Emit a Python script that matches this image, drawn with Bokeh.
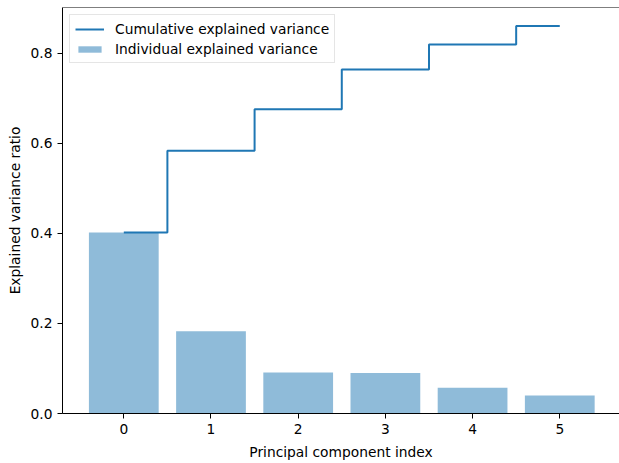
import numpy as np
from bokeh.plotting import figure
from bokeh.models import (Range1d, FixedTicker, PrintfTickFormatter, Legend,
                          LegendItem, Span, ColumnDataSource)
from bokeh.embed import file_html
from bokeh.resources import INLINE

components = [0, 1, 2, 3, 4, 5]
individual = [0.402, 0.183, 0.091, 0.090, 0.057, 0.040]
cumulative = [0.402, 0.584, 0.676, 0.764, 0.820, 0.861]
x_ticks = [0, 1, 2, 3, 4, 5]
y_ticks = [0.0, 0.2, 0.4, 0.6, 0.8]

FONT = "DejaVu Sans"
FS = "13.8px"
BLUE = "#1f77b4"

p = figure(width=619, height=463, output_backend="svg", toolbar_location=None,
           x_range=Range1d(-0.703, 5.685), y_range=Range1d(0, 0.902),
           min_border_left=62, min_border_right=0, min_border_top=7,
           min_border_bottom=50)
p.outline_line_color = None
p.grid.grid_line_color = None
p.background_fill_color = "white"
p.border_fill_color = "white"

src = ColumnDataSource(dict(x=components, ind=individual, cum=cumulative))
bars = p.vbar(x="x", top="ind", width=0.8, source=src, fill_color=BLUE,
              fill_alpha=0.5, line_color=None)
line = p.step(x="x", y="cum", mode="center", source=src, line_color=BLUE,
              line_width=2)

# top spine
p.add_layout(Span(location=0.902, dimension="width", line_color="black",
                  line_width=1))

for ax in (p.xaxis[0], p.yaxis[0]):
    ax.axis_line_color = "black"
    ax.axis_line_width = 1
    ax.major_tick_line_color = "black"
    ax.major_tick_out = 5
    ax.major_tick_in = 0
    ax.minor_tick_line_color = None
    ax.major_label_text_font = FONT
    ax.major_label_text_font_size = FS
    ax.major_label_text_color = "black"
    ax.axis_label_text_font = FONT
    ax.axis_label_text_font_size = FS
    ax.axis_label_text_font_style = "normal"
    ax.axis_label_text_color = "black"
    ax.major_label_standoff = 5

p.xaxis.ticker = FixedTicker(ticks=x_ticks)
p.yaxis.ticker = FixedTicker(ticks=y_ticks)
p.yaxis.formatter = PrintfTickFormatter(format="%.1f")
p.xaxis.axis_label = "Principal component index"
p.yaxis.axis_label = "Explained variance ratio"
p.xaxis.axis_label_standoff = 7
p.yaxis.axis_label_standoff = 5

legend = Legend(items=[LegendItem(label="Cumulative explained variance", renderers=[line]),
                       LegendItem(label="Individual explained variance", renderers=[bars])],
                location="top_left")
legend.label_text_font = FONT
legend.label_text_font_size = FS
legend.label_text_color = "black"
legend.glyph_width = 29
legend.glyph_height = 8
legend.label_height = 17
legend.label_standoff = 11
legend.spacing = 3
legend.padding = 5
legend.margin = 7
legend.border_line_color = "#cccccc"
legend.border_line_width = 1
legend.background_fill_alpha = 0.8
p.add_layout(legend)

open("out.html", "w").write(file_html(p, INLINE))
